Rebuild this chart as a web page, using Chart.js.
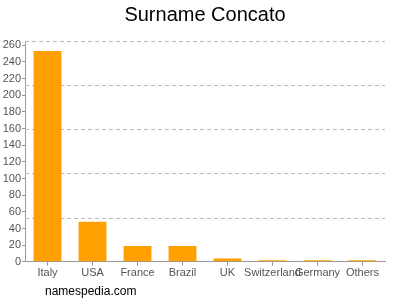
<!DOCTYPE html>
<html><head><meta charset="utf-8">
<script src="https://cdn.jsdelivr.net/npm/chart.js@4/dist/chart.umd.min.js"></script>
<style>
html,body{margin:0;padding:0;background:#fff;}
#wrap{position:relative;width:400px;height:300px;}
#foot{position:absolute;left:45px;top:284px;font:12px "Liberation Sans",Arial,sans-serif;color:#000;}
</style></head><body>
<div id="wrap"><canvas id="c" width="400" height="300"></canvas><div id="foot">namespedia.com</div></div>
<script>
const titleText = 'Surname Concato';
const categories = ["Italy","USA","France","Brazil","UK","Switzerland","Germany","Others"];
const counts = [253, 48, 19, 19, 4, 2, 2, 2];
const yTicks = [0,20,40,60,80,100,120,140,160,180,200,220,240,260];
const gridTicks = [0,53,106,159,212,265];
const yMax = 265;

new Chart(document.getElementById('c'), {
  type: 'bar',
  data: { labels: categories, datasets: [{ data: counts, backgroundColor: '#ffa000', borderWidth: 0, categoryPercentage: 0.62, barPercentage: 1 }] },
  options: {
    responsive: false, animation: false,
    layout: { padding: { left: 0, right: 15, top: 41, bottom: 19 } },
    plugins: { legend: { display: false }, tooltip: { enabled: false }, title: { display: false } },
    scales: {
      x: {
        grid: { display: true, drawOnChartArea: false, drawTicks: true, tickLength: 4, offset: false, color: '#999' },
        border: { color: '#999' },
        ticks: { color: '#555', font: { family: '"Liberation Sans", Arial, sans-serif', size: 11 }, padding: 1, maxRotation: 0, autoSkip: false }
      },
      y: {
        min: 0, max: yMax,
        afterBuildTicks: s => { s.ticks = yTicks.map(v => ({ value: v })); },
        afterFit: s => { s.width = 25; },
        grid: { drawOnChartArea: false, drawTicks: true, tickLength: 3, color: '#999' },
        border: { color: '#999' },
        ticks: { color: '#555', font: { family: '"Liberation Sans", Arial, sans-serif', size: 11 }, padding: 1 }
      },
      y2: {
        position: 'left', min: 0, max: yMax,
        afterBuildTicks: s => { s.ticks = gridTicks.map(v => ({ value: v })); },
        afterFit: s => { s.width = 0; },
        ticks: { display: false },
        border: { display: false },
        grid: { display: false }
      }
    }
  },
  plugins: [{
    id: 'dash',
    beforeDatasetsDraw(chart) {
      const s = chart.scales.y2; const a = chart.chartArea; const ctx = chart.ctx;
      ctx.save(); ctx.strokeStyle = '#bbb'; ctx.lineWidth = 1; ctx.setLineDash([4,3]);
      gridTicks.slice(1).forEach(v => { const y = Math.round(s.getPixelForValue(v)) + 0.5; ctx.beginPath(); ctx.moveTo(a.left, y); ctx.lineTo(a.right, y); ctx.stroke(); });
      ctx.restore();
    },
    afterDraw(chart) {
      const a = chart.chartArea; const ctx = chart.ctx;
      ctx.save(); ctx.fillStyle = '#000'; ctx.font = '20px "Liberation Sans", Arial, sans-serif';
      ctx.textAlign = 'center'; ctx.textBaseline = 'middle';
      ctx.fillText(titleText, (a.left + a.right) / 2, 15);
      ctx.restore();
    }
  }]
});
</script>
</body></html>
